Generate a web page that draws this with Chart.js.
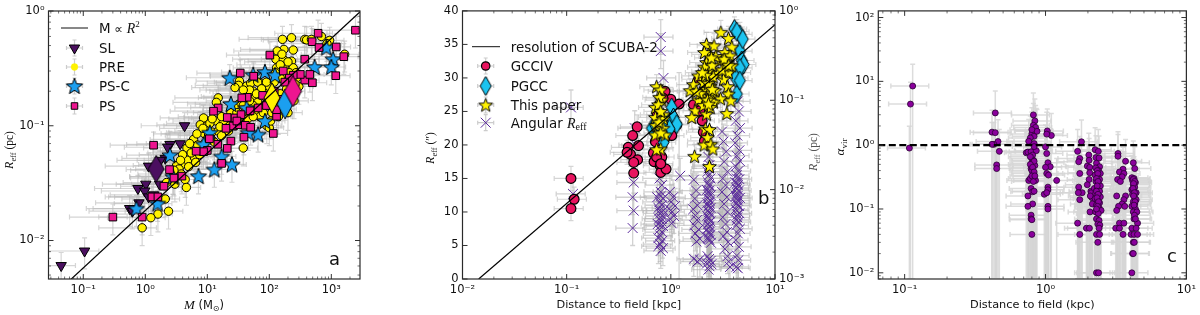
<!DOCTYPE html>
<html><head><meta charset="utf-8">
<script src="https://cdn.jsdelivr.net/npm/chart.js@4"></script>
<style>
html,body{margin:0;padding:0;background:#fff;width:1200px;height:315px;overflow:hidden}
canvas{position:absolute;top:0;filter:blur(0.45px)}
</style></head><body>
<canvas id="a" width="395" height="315" style="left:0"></canvas>
<canvas id="b" width="425" height="315" style="left:400px"></canvas>
<canvas id="c" width="370" height="315" style="left:830px"></canvas>
<script>
// ---------- panel a: R_eff (pc) against mass
const slData=[[.044,.00605],[.105,.0081],[4.3,.1],[3.65,.0697],[2.5,.0687],[2.3,.065],[1.13,.0445],[1.02,.031],[.76,.0284],[.98,.027],[1.36,.025],[.79,.0213],[.56,.019],[1.13,.024],[1.7,.031],[2.1,.052],[1.75,.05],[.62,.018]];
const preData=[[163,.566],[228,.585],[373,.566],[400,.56],[478,.566],[692,.6],[940,.555],[850,.52],[1640,.42],[243,.457],[172,.463],[134,.448],[128,.38],[168,.38],[228,.366],[131,.32],[178,.32],[243,.32],[178,.271],[275,.262],[33,.245],[43,.222],[50,.235],[70,.237],[32,.225],[28,.215],[55,.2],[80,.21],[40,.18],[59,.175],[15,.175],[14,.16],[32,.154],[27,.145],[24,.13],[8.7,.117],[7.7,.102],[10,.1],[14,.11],[18,.106],[20,.095],[12,.088],[15,.09],[9,.085],[6,.076],[4.7,.064],[7,.068],[38,.064],[3.9,.046],[3.2,.045],[4.8,.05],[6.2,.053],[7.5,.056],[3.5,.042],[4.4,.034],[4.6,.029],[2.37,.018],[1.6,.017],[1.23,.0158],[.89,.0129],[2.1,.023],[3,.031],[91,.1],[100,.096],[160,.14],[180,.16],[110,.13],[90,.15],[75,.14],[60,.13],[45,.115],[35,.105],[28,.1],[22,.09],[17,.082],[12,.075],[9,.07],[8,.06],[5.5,.058],[300,.22],[260,.23],[220,.2],[200,.24],[150,.26],[120,.24],[100,.22],[85,.18],[65,.16],[55,.15],[200,.13],[140,.12],[3.8,.038],[2.8,.036],[2.2,.032],
[160,.42],[200,.36],[150,.34],[210,.29],[125,.29],[270,.29],[65,.24],[90,.24],[75,.21],[48,.205],[38,.205],[62,.19],[48,.165],[38,.15],[42,.135],[30,.13],[25,.115],[17,.12],[11,.105],[8.5,.095],[12,.115],[16,.098],[23,.1],[6.8,.085],[10.5,.083],[13,.072],[5.2,.07],[4,.056],[5,.044],[6.5,.048],[9.5,.06],[2.9,.041],[3.7,.05],[70,.12],[80,.13],[55,.12],[105,.11],[130,.145],[250,.165],[150,.19],[190,.21],[115,.16]];
const pscData=[[23,.262],[85,.294],[123,.276],[55,.278],[832,.48],[1070,.38],[537,.325],[1000,.325],[24,.155],[43,.143],[85,.11],[66,.084],[46,.087],[11,.087],[8.7,.069],[17,.054],[25,.046],[13,.0416],[7.2,.0364],[2.5,.0554],[.72,.019],[1.58,.021],[2.8,.036]];
const psData=[[2450,.68],[612,.64],[490,.54],[634,.48],[1200,.486],[1590,.4],[1180,.273],[495,.237],[373,.25],[102,.413],[168,.3],[373,.38],[316,.28],[450,.28],[243,.276],[210,.26],[178,.24],[34,.288],[56,.27],[44,.177],[36,.175],[78,.184],[15,.143],[12.6,.134],[21,.118],[28,.117],[35,.125],[49,.135],[66,.143],[26,.0995],[33,.102],[41,.101],[50,.097],[116,.0857],[39,.0795],[24,.0735],[21,.0635],[14.8,.069],[10.8,.077],[10,.061],[8.7,.0595],[6.6,.06],[17,.047],[3.9,.0364],[2.9,.035],[2.46,.0415],[2,.0297],[1.36,.0677],[.3,.016],[.89,.016],[1.28,.024],[1.6,.024],[131,.121],[131,.138],[145,.17],[120,.2],[90,.15],[30,.11],[20,.095]];
const bigDiamondsA=[[1.5,.042],[110,.175],[180,.155],[240,.2]];
const lineA=[[.06,.00447],[3000,1]];
// ---------- panel b: R_eff (arcsec) against distance
const gccData=[[.11,15],[.118,11.9],[.11,10.5],[.475,22.7],[.43,21.4],[.49,19.9],[.39,19.65],[.41,18.6],[.48,17.8],[.44,17.4],[.44,15.8],[.38,18.9],[.68,18.8],[.69,17.5],[.82,18.2],[.79,16.9],[.8,15.9],[.9,16.4],[.73,18.2],[.71,20.5],[1.02,21.4],[1.14,23],[.88,28],[1,26.8],[1.2,26.1],[1.65,26],[1.85,29.8],[1.9,25.1],[2,23.6],[2.05,21.9],[2.1,20.6],[.74,24.5],[.76,23],[.84,27],[.8,17.2],[.87,21]];
const pgccData=[[.66,22.5],[.85,20.4],[1.02,25.6],[1.06,24.1],[.92,23.4],[.71,22.9],[1.14,23.1],[.97,22.4],[4.08,37.3],[4.6,36.5],[4.3,36.9],[4.6,34],[4.8,32.6],[4.45,30.8],[4.3,27.6],[5,32],[4.9,35.8],[4.6,31.5],[4.2,30],[4.6,29.6]];
const starData=[[.73,28.7],[.8,28.2],[.82,26.7],[.71,25.6],[.85,24.5],[.71,24.1],[.85,23.9],[.72,22.9],[.84,22.5],[.71,21.5],[.88,21.5],[.8,19.4],[.73,19.3],[.78,27.1],[.76,26],[.8,25],[.77,23.4],[.8,21.8],
[3.02,36.8],[3.57,35.9],[2.2,35],[2.6,34.8],[3.85,34.6],[2.3,33.5],[3.3,33.8],[3.7,33.3],[2.2,32.3],[2.97,32.6],[1.84,30.3],[2.3,31],[3.57,30.8],[3.85,31.8],[1.65,29],[1.53,28.1],[2.06,29.3],[2.42,29.8],[3.2,29.8],[3.5,28.7],[3.57,27.6],[3.77,26.6],[3,26.9],[1.84,26.7],[2.47,27.3],[2.57,26.4],[1.71,25.1],[1.59,24.1],[2.2,24.6],[2.39,25.6],[3.45,24.7],[2.14,22.4],[2.35,22.3],[2.25,21.1],[2.09,20],[2.42,20.1],[2.53,19.4],[1.69,18.3],[2.35,16.8],[2,27.8],[2.2,28.3],[2.4,28.8],[2.65,28.1],[2.85,30.7],[2.1,31.6],[2.7,33.2],[2.1,33.8],[2.5,31.9],[2.3,29.2],[2.55,30.2],[3.1,31.2],[3.4,32.2],[1.9,27.7],[2.05,25.9],[2.25,26.7],[2.15,30.4],[2.45,33],[2.3,26.1],[2.5,28.3],[3.25,32.8],[3.6,31.9],[1.75,28],[2,30.8]];
const angularData=[[.11,25.6],[.115,12.7],[.8,36.1],[.8,34],[.85,30],[.45,22.5],[.46,20],[.44,14.4],[.43,12.2],[.44,10.2],[.43,7.6],
[.78,15],[.82,14],[.8,13],[.74,12.2],[.84,12],[.78,11.5],[.82,11],[.76,10.6],[.85,10.2],[.79,9.8],[.83,9.4],[.77,9],[.81,8.6],[.75,8.2],[.84,7.9],[.78,7.4],[.82,7],[.79,6.5],[.76,6.1],[.83,5.7],[.79,5.2],[.76,4.9],[.84,4.6],[.8,4.2],[.8,12.4],[.78,10.2],[.82,9],[.8,8],
[.98,13],[1.05,12.2],[1.01,11.5],[1.1,10.9],[.96,10.5],[1.03,10],[1.07,9.4],[.98,9],[1.02,8.3],[1.23,15.4],
[1.66,14.8],[1.75,13.2],[1.7,12],[1.8,11],[1.64,10.4],[1.72,9.5],[1.78,8.8],[1.68,8],[1.85,7.4],[1.72,6.8],[1.9,6],[1.76,5.6],[1.66,3],[1.8,2.6],[1.9,2.9],
[2.3,18.2],[2.35,17],[2.25,16],[2.4,15],[2.28,14.4],[2.36,13.9],[2.22,13.3],[2.32,12.9],[2.42,12.5],[2.27,12.1],[2.37,11.7],[2.23,11.3],[2.33,11],[2.41,10.6],[2.27,10.2],[2.36,9.8],[2.24,9.4],[2.32,9],[2.4,8.6],[2.28,8.2],[2.35,7.8],[2.22,7.4],[2.31,7],[2.4,6.6],[2.27,6.2],[2.35,5.8],[2.43,5.4],[2.25,3.4],[2.33,3],[2.41,2.7],[2.22,2.3],[2.35,1.9],[2.3,1.4],[2.45,2.2],[2.3,16.5],[2.33,15.5],[2.3,14],[2.34,13.2],[2.3,12.5],[2.34,11.4],[2.3,10.8],[2.33,10],[2.3,9.2],[2.34,8.4],[2.3,7.6],[2.33,6.8],[2.3,6],
[3.1,22],[3.2,20.5],[3.4,19],[3.25,17.5],[3.5,16],[3.15,15],[3.35,14],[3.1,13],[3.45,12.2],[3.25,11.2],[3.5,10],[3.15,9.2],[3.35,8.2],[3.45,7],[3.2,6.4],[3.55,5.5],[3.3,4.5],[3.5,3.4],[3.6,2.6],[3.7,1.8],
[4.4,26.5],[4.5,25],[4.2,23.6],[4.6,22.5],[4.35,21.4],[4.15,20.3],[4.55,19.2],[4.3,18.4],[4.6,17.6],[4.2,16.8],[4.45,16.1],[4.3,15.5],[4.55,14.9],[4.15,14.4],[4.4,14],[4.25,13.6],[4.5,13.2],[4.35,12.8],[4.2,12.4],[4.6,12.1],[4.4,11.7],[4.3,11.3],[4.5,10.9],[4.2,10.4],[4.55,9.8],[4.35,9.2],[4.45,8.5],[4.25,8],[4.6,7.5],[4.4,6.8],[4.2,5.8],[4.5,4.8],[4.3,3.5],[4.45,2.8],[4.25,1.8],[4.4,1.6],[4.3,15],[4.35,14.3],[4.3,13.4],[4.38,12.4],[4.3,12],[4.36,11],[4.3,10.2],[4.36,9.6],[4.3,8.8]];
const lineB=[[.0143,.001],[10,.7]];
// ---------- panel c: alpha_vir against distance
const alphaData=[[.114,8.45],[.11,4.4],[.108,.9],[.44,3.2],[.417,1.6],[.44,1.57],[.46,1.14],[.43,1.03],[.417,1.03],[.47,.8],[.45,.49],[.45,.43],
[.82,2.98],[.84,2.4],[.82,2.05],[.86,1.7],[.8,1.5],[.83,1.38],[.78,1.3],[.85,1.9],[.87,1.65],[.8,1.75],[.76,1.15],[.83,1.06],[.73,.76],[.75,.78],[.79,.79],[.86,.82],[.8,.62],[.83,.95],[.8,.52],[.82,.58],[.79,.43],[.84,.48],[.82,.36],[.8,.4],[.76,.28],[.85,.28],[.78,.3],[.82,.27],[.79,.21],[.81,.186],[.75,.16],[.83,.19],[.81,.12],[.75,.11],[.79,.08],[.79,.07],[.8,.068],[.8,.04],[.81,.7],[.78,.66],[.83,.56],[.78,.5],[.81,.45],[.83,.38],[.8,.33],[.84,.33],
[1.03,1.67],[1.1,1.42],[1.02,1.49],[1,.94],[1.02,.74],[1.04,.53],[1.08,.46],[1,.45],[1.02,.36],[1.05,.34],[1.04,.22],[1.04,.2],[.98,.17],[1.02,.18],[1.04,.11],[1.04,.1],[1.2,.28],
[1.8,1.13],[1.69,.8],[1.75,.62],[1.72,.55],[1.75,.36],[1.72,.22],[1.82,.18],[1.71,.18],[1.75,.14],[1.69,.06],[1.75,.04],
[2.03,.7],[1.98,.47],[2.04,.58],[2.06,.45],[2.06,.37],[2.04,.29],[1.98,.24],[2.1,.19],[2.14,.15],[2.07,.09],[1.95,.05],[2.05,.05],[2.12,.18],[2.15,.12],[2.08,.16],
[2.25,.85],[2.37,.8],[2.28,.64],[2.4,.63],[2.3,.52],[2.42,.46],[2.27,.44],[2.38,.4],[2.45,.36],[2.25,.34],[2.35,.31],[2.42,.29],[2.28,.27],[2.38,.25],[2.45,.23],[2.22,.21],[2.32,.2],[2.42,.19],[2.27,.175],[2.37,.165],[2.45,.155],[2.25,.145],[2.35,.135],[2.42,.125],[2.3,.115],[2.4,.105],[2.48,.095],[2.27,.09],[2.37,.085],[2.3,.07],[2.4,.066],[2.35,.058],[2.43,.056],[2.4,.05],[2.3,.04],[2.42,.04],[2.35,.03],[2.3,.01],[2.38,.01],[2.33,.4],[2.35,.36],[2.3,.3],[2.36,.27],[2.33,.23],[2.3,.19],[2.36,.17],[2.32,.15],[2.38,.13],[2.34,.11],[2.3,.1],
[3.27,.74],[3.27,.67],[3.7,.56],[3.55,.42],[3.35,.38],[3.6,.36],[3.5,.32],[3.25,.29],[3.4,.27],[3.2,.16],[3.7,.16],[3.6,.14],[3.5,.12],[3.3,.11],[3.2,.095],[3.65,.11],[3.35,.06],[3.6,.06],[3.15,.05],[3.35,.05],[3.55,.04],
[4.2,.53],[4.3,.43],[4.1,.31],[4.25,.3],[4.15,.28],[4.35,.26],[4.2,.24],[4.3,.22],[4.1,.2],[4.25,.19],[4.4,.18],[4.15,.17],[4.3,.15],[4.4,.14],[4.2,.13],[4.3,.12],[4.1,.11],[4.35,.1],[4.2,.09],[4.45,.09],[4.25,.07],[4.5,.06],[4.1,.05],[4.4,.05],[4.05,.04],[4.25,.04],[4.5,.04],[4.2,.03],[4.27,.03],[4.15,.02],[4.2,.02],[4.1,.01],[4.2,.29],[4.3,.27],[4.22,.25],[4.18,.21],[4.28,.18],[4.22,.16],[4.32,.13],[4.25,.115],[4.28,.08],[4.35,.07]];
const lineC=[[.065,1],[10,1]];
// ---------- tick labels (decade exponents)
const aXExp=[-1,0,1,2,3], aYExp=[-2,-1,0], bXExp=[-2,-1,0,1], bY2Exp=[-3,-2,-1,0], cXExp=[-1,0,1], cYExp=[-2,-1,0,1,2];
const bYTicks=[0,5,10,15,20,25,30,35,40];
const supMap={'-':'⁻','0':'⁰','1':'¹','2':'²','3':'³'};
const decade=v=>'10'+String(Math.round(Math.log10(v))).split('').map(c=>supMap[c]).join('');

const SANS='"DejaVu Sans"', SERIF='"Liberation Serif"';
const pts=a=>a.map(([x,y])=>({x,y}));
function mk(w,h,path,fill,lw,stroke){const c=document.createElement('canvas');c.width=w;c.height=h;const g=c.getContext('2d');g.translate(w/2,h/2);g.beginPath();path(g);g.closePath();g.fillStyle=fill;g.fill();g.lineWidth=lw;g.lineJoin='miter';g.strokeStyle=stroke||'#000';g.stroke();return c}
function star(R,fill){const S=Math.ceil(R*2+4);return mk(S,S,g=>{for(let i=0;i<10;i++){const r=i%2?R*.42:R,t=-Math.PI/2+i*Math.PI/5;g[i?'lineTo':'moveTo'](r*Math.cos(t),r*Math.sin(t)+R*.08)}},fill,1)}
function diamond(w,h,fill,stroke){return mk(w+4,h+4,g=>{g.moveTo(0,-h/2);g.lineTo(w/2,0);g.lineTo(0,h/2);g.lineTo(-w/2,0)},fill,1,stroke)}

const PURPLE='#4b0f60',YEL='#fff200',BLUE='#1b9ff0',PINK='#ee1590';
const starA=star(8.6,BLUE), starB=star(7.2,YEL);
const dPur=diamond(16,27,PURPLE),dYel=diamond(16,30,YEL),dBlu=diamond(16,30,BLUE),dPnk=diamond(17,31,PINK);
const dPgcc=diamond(11,19,'#1cc4f0');

function rich(ctx,segs,cx,cy,rot){ctx.save();ctx.translate(cx,cy);ctx.rotate(rot||0);ctx.textBaseline='alphabetic';ctx.textAlign='left';
 let tot=0;segs.forEach(s=>{ctx.font=s.f;s.w=ctx.measureText(s.t).width;tot+=s.w});let x=-tot/2;
 segs.forEach(s=>{ctx.font=s.f;ctx.fillStyle=s.c||'#111';ctx.fillText(s.t,x,s.dy||0);x+=s.w});ctx.restore()}
function richLeft(ctx,segs,x,y){ctx.save();ctx.textBaseline='alphabetic';ctx.textAlign='left';segs.forEach(s=>{ctx.font=s.f;ctx.fillStyle=s.c||'#111';ctx.fillText(s.t,x,y+(s.dy||0));x+=ctx.measureText(s.t).width});ctx.restore()}
const reffSeg=(sz,c)=>[{t:'R',f:`italic ${sz}px ${SERIF}`,c},{t:'eff',f:`${sz*.7}px ${SERIF}`,dy:2.5,c}];

function decor(cfg){return{id:'decor',
 beforeDatasetsDraw(chart){const {ctx,chartArea:A}=chart;ctx.save();ctx.beginPath();ctx.rect(A.left,A.top,A.right-A.left,A.bottom-A.top);ctx.clip();
  chart.data.datasets.forEach(ds=>{const e=ds.errs;if(!e)return;const X=chart.scales.x,Y=chart.scales[ds.yAxisID||'y'];
   ctx.strokeStyle=e.color;ctx.lineWidth=e.lw;
   ds.data.forEach(p=>{const px=X.getPixelForValue(p.x),py=Y.getPixelForValue(p.y);
    const x0=X.getPixelForValue(p.x*(1-e.xlo)),x1=X.getPixelForValue(p.x*(1+e.xhi));
    const yLow=e.yabs?p.y-e.yabs:p.y*(1-e.ylo),yHigh=e.yabs?p.y+e.yabs:p.y*(1+e.yhi);
    const y0=yLow>0||Y.type==='linear'?Y.getPixelForValue(yLow):A.bottom,y1=Y.getPixelForValue(yHigh);
    ctx.beginPath();ctx.moveTo(x0,py);ctx.lineTo(x1,py);ctx.moveTo(px,y0);ctx.lineTo(px,y1);
    ctx.moveTo(x0,py-2.5);ctx.lineTo(x0,py+2.5);ctx.moveTo(x1,py-2.5);ctx.lineTo(x1,py+2.5);
    ctx.moveTo(px-2.5,y0);ctx.lineTo(px+2.5,y0);ctx.moveTo(px-2.5,y1);ctx.lineTo(px+2.5,y1);ctx.stroke()})});
  ctx.restore()},
 afterDraw(chart){const {ctx,chartArea:A}=chart;ctx.save();
  ctx.strokeStyle='#333';
  const tick=(scale,vals,len,sides)=>{vals.forEach(v=>{const p=scale.getPixelForValue(v);if(p<A.left-1&&scale.isHorizontal())return;
    sides.forEach(side=>{ctx.beginPath();
     if(side==='b'){ctx.moveTo(p,A.bottom);ctx.lineTo(p,A.bottom-len)}
     if(side==='t'){ctx.moveTo(p,A.top);ctx.lineTo(p,A.top+len)}
     if(side==='l'){ctx.moveTo(A.left,p);ctx.lineTo(A.left+len,p)}
     if(side==='r'){ctx.moveTo(A.right,p);ctx.lineTo(A.right-len,p)}
     ctx.stroke()})})};
  const logTicks=(scale,sides)=>{const lo=Math.floor(Math.log10(scale.min)),hi=Math.ceil(Math.log10(scale.max));
    for(let e=lo;e<=hi;e++)for(let m=1;m<10;m++){const v=m*10**e;if(v<scale.min*.999||v>scale.max*1.001)continue;ctx.lineWidth=m===1?1:.7;tick(scale,[v],m===1?5:2.5,sides)}};
  logTicks(chart.scales.x,['b','t']);
  if(cfg.linY){ctx.lineWidth=1;tick(chart.scales.y,bYTicks,5,['l']);logTicks(chart.scales.y2,['r'])}
  else logTicks(chart.scales.y,['l','r']);
  ctx.strokeStyle='#2a2a2a';ctx.lineWidth=1.2;ctx.strokeRect(A.left,A.top,A.right-A.left,A.bottom-A.top);
  ctx.restore();cfg.draw&&cfg.draw(chart,ctx)}}}

function logAxis(min,max,exps,extra){return Object.assign({type:'logarithmic',min,max,grid:{display:false,drawTicks:false},border:{display:false},
  afterBuildTicks:s=>{s.ticks=exps.map(e=>({value:10**e}))},
  ticks:{autoSkip:false,maxRotation:0,minRotation:0,padding:4,color:'#111',font:{family:SANS,size:11.5},callback:v=>decade(v)}},extra)}
function xTitle(t){return {display:true,text:t,color:'#111',font:{family:SANS,size:11.3},padding:{top:0,bottom:3}}}
const base=()=>({responsive:false,animation:false,devicePixelRatio:1,events:[],plugins:{legend:{display:false},tooltip:{enabled:false}}});
const legendErr=(ctx,x,y,c)=>{ctx.strokeStyle=c||'#ccc';ctx.lineWidth=1.2;ctx.beginPath();ctx.moveTo(x-8,y);ctx.lineTo(x+8,y);ctx.moveTo(x,y-8);ctx.lineTo(x,y+8);ctx.moveTo(x-8,y-2);ctx.lineTo(x-8,y+2);ctx.moveTo(x+8,y-2);ctx.lineTo(x+8,y+2);ctx.moveTo(x-2,y-8);ctx.lineTo(x+2,y-8);ctx.moveTo(x-2,y+8);ctx.lineTo(x+2,y+8);ctx.stroke()};
const H=Chart.helpers;
const mark=(ctx,x,y,o)=>{ctx.save();ctx.fillStyle=o.fill||'transparent';ctx.strokeStyle=o.stroke||'#000';ctx.lineWidth=o.lw||1;H.drawPoint(ctx,{pointStyle:o.style,radius:o.r,rotation:o.rot||0,borderWidth:o.lw||1},x,y);ctx.restore()};
const LF=`13.4px ${SANS}`;

// panel a
const errA={color:'rgba(185,185,185,.6)',lw:1.2,xlo:.8,xhi:.7,ylo:.3,yhi:.3};
new Chart(document.getElementById('a'),{type:'scatter',
 data:{datasets:[
  {label:'M ∝ R²',data:pts(lineA),showLine:true,pointRadius:0,borderColor:'#000',borderWidth:1.2,order:1},
  {label:'Medians',data:pts(bigDiamondsA),pointStyle:ctx=>[dPur,dYel,dBlu,dPnk][ctx.dataIndex],pointRadius:10,order:2},
  {label:'PS',data:pts(psData),pointStyle:'rect',pointRadius:5.4,backgroundColor:PINK,borderColor:'#000',borderWidth:1,order:3,errs:errA},
  {label:'PS-C',data:pts(pscData),pointStyle:starA,order:4,errs:errA},
  {label:'PRE',data:pts(preData),pointRadius:4.2,backgroundColor:YEL,borderColor:'#000',borderWidth:1,order:5,errs:errA},
  {label:'SL',data:pts(slData),pointStyle:'triangle',pointRotation:180,pointRadius:6,backgroundColor:PURPLE,borderColor:'#000',borderWidth:1,order:6,errs:errA}]},
 options:Object.assign(base(),{layout:{padding:{left:0,right:35,top:10,bottom:0}},
  scales:{x:logAxis(.0275,2900,aXExp,{afterFit:s=>{s.height=36}}),y:logAxis(.00462,1,aYExp,{afterFit:s=>{s.width=48.5}})}}),
 plugins:[decor({draw(chart,ctx){
   rich(ctx,[...reffSeg(12),{t:' (pc)',f:`11.5px ${SERIF}`}],13,150,-Math.PI/2);
   rich(ctx,[{t:'M',f:`italic 13px ${SERIF}`},{t:' (M',f:`11.5px ${SANS}`},{t:'⊙',f:`8px ${SANS}`,dy:2},{t:')',f:`11.5px ${SANS}`}],204,309);
   ctx.save();ctx.strokeStyle='#111';ctx.lineWidth=1;ctx.beginPath();ctx.moveTo(61,28);ctx.lineTo(88,28);ctx.stroke();ctx.restore();
   richLeft(ctx,[{t:'M',f:LF},{t:' ∝ ',f:`12px ${SANS}`},{t:'R',f:`italic 14px ${SERIF}`},{t:'2',f:`9px ${SERIF}`,dy:-6}],99,33);
   [[48,'SL'],[67,'PRE'],[86,'PS-C'],[106,'PS']].forEach(([y,t])=>{legendErr(ctx,74.5,y);richLeft(ctx,[{t,f:LF}],99,y+5)});
   mark(ctx,74.5,48,{style:'triangle',r:6,rot:180,fill:PURPLE});mark(ctx,74.5,67,{style:'circle',r:3.4,fill:YEL,lw:.4,stroke:YEL});
   ctx.drawImage(starA,74.5-starA.width/2,86-starA.height/2);mark(ctx,74.5,106,{style:'rect',r:4.6,fill:PINK});
   ctx.font=`18px ${SANS}`;ctx.fillStyle='#111';ctx.textAlign='left';ctx.textBaseline='alphabetic';ctx.fillText('a',329,265);
 }})]});

// panel b
const errStars={color:'rgba(185,185,185,.6)',lw:1.2,xlo:.31,xhi:.31,yabs:1.8};
const errAng={color:'rgba(180,180,180,.6)',lw:1.3,xlo:.31,xhi:.31,yabs:2.6};
const XCOL='#5a2a9c';
const angWide=[[1.2,15.4]];
new Chart(document.getElementById('b'),{type:'scatter',
 data:{datasets:[
  {label:'resolution of SCUBA-2',data:pts(lineB),yAxisID:'y2',showLine:true,pointRadius:0,borderColor:'#000',borderWidth:1.2,order:1},
  {label:'This paper',data:pts(starData),pointStyle:starB,order:2,errs:errStars},
  {label:'PGCC',data:pts(pgccData),pointStyle:dPgcc,order:3,errs:errStars},
  {label:'GCCIV',data:pts(gccData),pointRadius:4.9,backgroundColor:'#e8145f',borderColor:'#000',borderWidth:1.2,order:4,errs:errStars},
  {label:'Angular Reff',data:pts(angularData),pointStyle:'crossRot',pointRadius:7,borderColor:XCOL,borderWidth:1,order:5,errs:errAng},
  {label:'wide',data:pts(angWide),pointRadius:0,order:6,errs:Object.assign({},errAng,{yabs:15.4})}]},
 options:Object.assign(base(),{layout:{padding:{left:0,right:0,top:10,bottom:0}},
  scales:{x:logAxis(.01,10,bXExp,{title:xTitle('Distance to field [kpc]'),afterFit:s=>{s.height=36}}),
   y:{type:'linear',min:0,max:40,grid:{display:false,drawTicks:false},border:{display:false},afterBuildTicks:s=>{s.ticks=bYTicks.map(v=>({value:v}))},
      ticks:{autoSkip:false,padding:4,color:'#111',font:{family:SANS,size:11.5}},afterFit:s=>{s.width=62.5}},
   y2:logAxis(.001,1,bY2Exp,{position:'right',afterFit:s=>{s.width=50}})}}),
 plugins:[decor({linY:true,draw(chart,ctx){
   rich(ctx,[...reffSeg(12),{t:' (″)',f:`11.5px ${SERIF}`}],34,148,-Math.PI/2);
   rich(ctx,[...reffSeg(12,'#555'),{t:' (pc)',f:`11.5px ${SERIF}`,c:'#555'}],417,152,-Math.PI/2);
   ctx.save();ctx.strokeStyle='#111';ctx.lineWidth=1;ctx.beginPath();ctx.moveTo(72,46.7);ctx.lineTo(100,46.7);ctx.stroke();ctx.restore();
   richLeft(ctx,[{t:'resolution of SCUBA-2',f:LF}],110.7,51.5);
   [[66,'GCCIV'],[86,'PGCC'],[105,'This paper']].forEach(([y,t])=>{legendErr(ctx,85.7,y);richLeft(ctx,[{t,f:LF}],110.7,y+5)});
   legendErr(ctx,85.7,122.7);richLeft(ctx,[{t:'Angular ',f:LF},{t:'R',f:`italic 14px ${SERIF}`},{t:'eff',f:`10px ${SERIF}`,dy:2.5}],110.7,127.5);
   mark(ctx,85.7,66,{style:'circle',r:4.2,fill:'#e8145f',lw:1.2});ctx.drawImage(dPgcc,85.7-dPgcc.width/2,86-dPgcc.height/2);
   ctx.drawImage(starB,85.7-starB.width/2,105-starB.height/2);mark(ctx,85.7,122.7,{style:'crossRot',r:7,stroke:XCOL,lw:1});
   ctx.font=`18px ${SANS}`;ctx.fillStyle='#111';ctx.textAlign='left';ctx.textBaseline='alphabetic';ctx.fillText('b',358,204);
 }})]});

// panel c
const errC={color:'rgba(214,214,214,.85)',lw:1.5,xlo:.3,xhi:.3,ylo:1.2,yhi:1.2};
new Chart(document.getElementById('c'),{type:'scatter',
 data:{datasets:[
  {label:'virial',data:pts(lineC),showLine:true,pointRadius:0,borderColor:'#000',borderWidth:2.2,borderDash:[7,3.5],order:1},
  {label:'alpha',data:pts(alphaData),pointRadius:3,backgroundColor:'#8a009c',borderColor:'#2a0033',borderWidth:.8,order:2,errs:errC}]},
 options:Object.assign(base(),{layout:{padding:{left:0,right:10.7,top:10,bottom:0}},
  scales:{x:logAxis(.065,10,cXExp,{title:xTitle('Distance to field (kpc)'),afterFit:s=>{s.height=36}}),y:logAxis(.008,127,cYExp,{afterFit:s=>{s.width=48.3}})}}),
 plugins:[decor({draw(chart,ctx){
   rich(ctx,[{t:'α',f:`italic 13px ${SERIF}`},{t:'vir',f:`9px ${SERIF}`,dy:2.5}],14,147,-Math.PI/2);
   ctx.font=`18px ${SANS}`;ctx.fillStyle='#111';ctx.textAlign='left';ctx.textBaseline='alphabetic';ctx.fillText('c',337,262);
 }})]});
</script></body></html>
